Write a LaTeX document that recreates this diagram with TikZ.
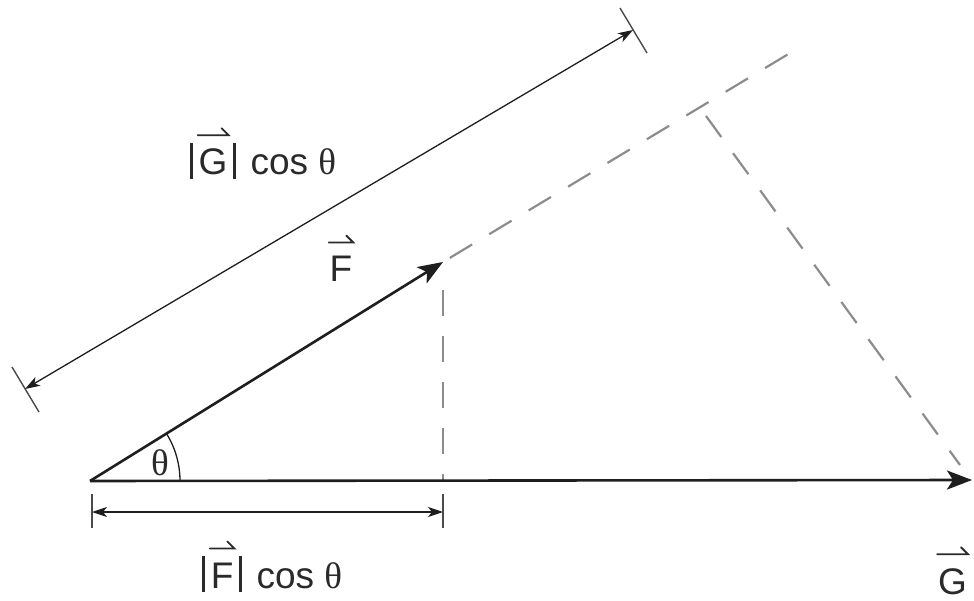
\documentclass[tikz,border=0pt]{standalone}
\usepackage{fontspec}
\setmainfont{Liberation Sans}
\newfontfamily\thetafont{Liberation Serif}
\usetikzlibrary{arrows.meta,calc}
\definecolor{ink}{HTML}{1E1E1E}
\definecolor{txt}{HTML}{2A2A2A}
\definecolor{dashgray}{HTML}{8C8C8C}
\newcommand\hv[1]{\tikz[baseline=(hvl.base)]{\node[inner sep=0pt,outer sep=0pt,text=txt](hvl){#1};\draw[txt,line width=1.8pt,line cap=round] ([yshift=14pt,xshift=-1pt]hvl.north west) -- ([yshift=14pt,xshift=1pt]hvl.north east) -- ++(-7pt,7pt);}}
\newcommand\thet{{\thetafont θ}}
\newcommand\vb{\kern4pt\rule[-4pt]{3pt}{36pt}\kern4pt}
\tikzset{
  vec/.style={ink,line width=2.6pt,-{Stealth[length=25pt,width=19pt,inset=6pt]}},
  dim/.style={ink,line width=1.3pt,{Stealth[length=15pt,width=10pt,inset=4pt]}-{Stealth[length=15pt,width=10pt,inset=4pt]}},
  tick/.style={ink!80,line width=1.4pt},
  dsh/.style={dashgray,line width=2.2pt,dash pattern=on 26pt off 20pt},
  lbl/.style={text=txt,font=\fontsize{37}{44}\selectfont,inner sep=0pt}
}
\begin{document}
\begin{tikzpicture}[x=1pt,y=-1pt]
\useasboundingbox (0,0) rectangle (974,601);
\clip (0,0) rectangle (974,601);
% points
\coordinate (O) at (90,481);
\coordinate (Ft) at (443,262);
\coordinate (Gt) at (972,480);
\coordinate (Fe) at (800,47);
\coordinate (Pf) at (706,116);
\coordinate (Pe) at (960,465);
\coordinate (Vb) at (443,480);
% dashed construction
\draw[dsh] ($(Ft)!8pt!(Fe)$) -- (Fe);
\draw[dsh] (Pf) -- (Pe);
\draw[dsh] ([yshift=-28pt]Ft) -- (Vb);
% angle arc
\draw[ink,line width=1.3pt] ($(O)+(90,0)$) arc[start angle=0,end angle=31.8,radius=90pt];
\node[lbl] (th) at (160,463) {\thet};
% vectors
\draw[vec] (O) -- (Gt);
\draw[vec] (O) -- (Ft);
% bottom dimension
\coordinate (B1) at (92,512);
\coordinate (B2) at (443,512);
\draw[tick] ([yshift=18pt]B1) -- ([yshift=-16pt]B1);
\draw[tick] ([yshift=18pt]B2) -- ([yshift=-16pt]B2);
\draw[dim] (B1) -- (B2);
% top dimension
\coordinate (T1) at (25,389);
\coordinate (T2) at (633,30);
\draw[tick] ($(T1)+(-13,-22)$) -- ($(T1)+(14,23)$);
\draw[tick] ($(T2)+(-13,-22)$) -- ($(T2)+(14,23)$);
\draw[dim] (T1) -- (T2);
% labels
\node[lbl,anchor=base] (lG) at (261,175) {\vb\hv{G}\vb{} cos \thet};
\node[lbl,anchor=base] (lFc) at (270,588) {\vb\hv{F}\vb{} cos \thet};
\node[lbl,anchor=base] (lF) at (341,282) {\hv{F}};
\node[lbl,anchor=base east] (lGv) at (969,594) {\hv{G}};
\end{tikzpicture}
\end{document}
